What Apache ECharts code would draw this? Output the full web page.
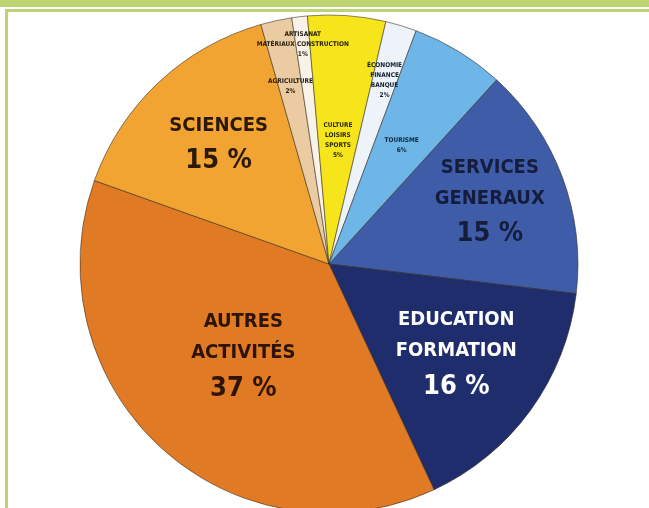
<!DOCTYPE html>
<html>
<head>
<meta charset="utf-8">
<script src="https://cdn.jsdelivr.net/npm/echarts@6/dist/echarts.min.js"></script>
<style>
  html, body { margin: 0; padding: 0; background: #ffffff; }
  #chart { width: 649px; height: 508px; }
</style>
</head>
<body>
<div id="chart"></div>
<script>
// Sectors, listed clockwise starting from the Services / Tourisme edge
const categories = [
  'SERVICES\nGENERAUX',
  'EDUCATION\nFORMATION',
  'AUTRES\nACTIVITÉS',
  'SCIENCES',
  'AGRICULTURE',
  'ARTISANAT\nMATÉRIAUX CONSTRUCTION',
  'CULTURE\nLOISIRS\nSPORTS',
  'ÉCONOMIE\nFINANCE\nBANQUE',
  'TOURISME'
];
const shares = [15, 16, 37, 15, 2, 1, 5, 2, 6];

// Styling per sector
const sliceColors = ['#3F5CA9', '#1F2D6C', '#E17A24', '#F1A431', '#EACBA2', '#F8F2E8', '#F5E51A', '#EDF3F9', '#6EB5E8'];
const labelColors = ['#161d3c', '#ffffff', '#2e1406', '#2a1808', '#2a2010', '#2a2010', '#2a2a08', '#102030', '#0f2a40'];
const labelRadius = [0.69, 0.63, 0.51, 0.65, 0.73, 0.89, 0.50, 0.77, 0.56];
const largeCount = 4;

const CX = 329, CY = 264, R = 249;

const chart = echarts.init(document.getElementById('chart'), null, { renderer: 'canvas' });

const data = categories.map((name, i) => {
  const big = i < largeCount;
  return {
    name: name,
    value: shares[i],
    itemStyle: { color: sliceColors[i] },
    label: big ? {
      formatter: '{n|{b}}\n{v|{c} %}',
      rich: {
        n: { fontSize: 20, fontWeight: 'bold', color: labelColors[i], lineHeight: 31, fontFamily: 'DejaVu Sans Condensed', align: 'center' },
        v: { fontSize: 27, fontWeight: 'bold', color: labelColors[i], lineHeight: 40, fontFamily: 'DejaVu Sans Condensed', align: 'center' }
      }
    } : {
      formatter: '{s|{b}\n{c}%}',
      rich: {
        s: { fontSize: 6.5, fontWeight: 'bold', color: labelColors[i], lineHeight: 10, fontFamily: 'DejaVu Sans Condensed', align: 'center' }
      }
    }
  };
});

chart.setOption({
  backgroundColor: '#ffffff',
  animation: false,
  graphic: [
    { type: 'rect', shape: { x: 0, y: 0, width: 649, height: 7 }, style: { fill: '#BCD473' }, z: 10 },
    { type: 'rect', shape: { x: 5, y: 9, width: 644, height: 3 }, style: { fill: '#BCD473' }, z: 10 },
    { type: 'rect', shape: { x: 5, y: 9, width: 3, height: 499 }, style: { fill: '#BCD473' }, z: 10 }
  ],
  series: [{
    type: 'pie',
    center: [CX, CY],
    radius: [0, R],
    startAngle: 47.7,
    clockwise: true,
    avoidLabelOverlap: false,
    itemStyle: { borderColor: 'rgba(50,40,30,0.55)', borderWidth: 1 },
    label: { show: true, position: 'inside' },
    labelLine: { show: false },
    emphasis: { disabled: true },
    labelLayout: function (p) {
      const i = p.dataIndex;
      const lx = p.labelRect.x + p.labelRect.width / 2;
      const ly = p.labelRect.y + p.labelRect.height / 2;
      const a = Math.atan2(ly - CY, lx - CX);
      const r = labelRadius[i] * R;
      return { x: CX + r * Math.cos(a), y: CY + r * Math.sin(a) };
    },
    data: data
  }]
});
</script>
</body>
</html>
